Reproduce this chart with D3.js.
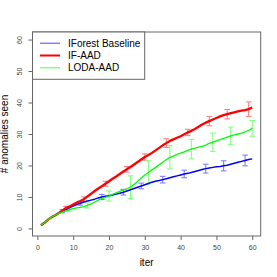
<!DOCTYPE html>
<html>
<head>
<meta charset="utf-8">
<script src="https://cdn.jsdelivr.net/npm/d3@7"></script>
<style>
  html, body { margin: 0; padding: 0; background: #fff; }
  text { font-family: "Liberation Sans", Arial, sans-serif; }
</style>
</head>
<body>
<svg id="chart" width="277" height="277"></svg>
<script>
// mean anomalies seen per iteration (iter 1..60)
const iters = d3.range(1, 61);
const baseline = [1, 1.8, 2.8, 3.6, 4.2, 4.9, 5.5, 6.0, 6.6, 7.1, 7.6, 8.0, 8.4, 8.7, 9.0, 9.3, 9.7, 10.0, 10.2, 10.4,
  10.6, 10.9, 11.2, 11.5, 11.9, 12.3, 12.7, 13.1, 13.5, 13.9, 14.3, 14.7, 15.0, 15.2, 15.5, 15.8, 16.1, 16.4, 16.7, 17.0,
  17.3, 17.5, 17.8, 18.1, 18.4, 18.7, 19.0, 19.2, 19.4, 19.6, 19.7, 19.9, 20.1, 20.4, 20.7, 21.0, 21.3, 21.6, 21.9, 22.1];
const ifaad = [1, 1.8, 2.8, 3.6, 4.2, 4.9, 5.7, 6.5, 7.0, 7.6, 8.2, 8.7, 9.3, 10.2, 11.0, 11.9, 12.7, 13.4, 14.2, 15.0,
  15.8, 16.5, 17.3, 18.1, 18.8, 19.5, 20.3, 21.1, 21.9, 22.7, 23.3, 24.0, 24.8, 25.6, 26.4, 27.1, 27.8, 28.3, 28.8, 29.3,
  29.9, 30.5, 31.0, 31.6, 32.3, 33.0, 33.6, 34.1, 34.6, 35.1, 35.6, 36.0, 36.3, 36.6, 36.9, 37.2, 37.4, 37.6, 37.9, 38.4];
const lodaad = [1, 1.8, 2.8, 3.6, 4.2, 4.8, 5.2, 5.6, 6.0, 6.3, 6.5, 6.7, 6.9, 7.3, 7.8, 8.4, 9.0, 9.5, 9.9, 10.3,
  10.8, 11.3, 11.8, 12.2, 12.6, 13.1, 14.0, 15.0, 16.0, 17.0, 17.8, 18.6, 19.4, 20.2, 21.0, 21.8, 22.6, 23.0, 23.5, 23.9,
  24.3, 24.8, 25.2, 25.5, 25.8, 26.1, 26.5, 27.0, 27.4, 27.8, 28.2, 28.6, 29.0, 29.4, 29.7, 30.0, 30.3, 30.7, 31.2, 31.8];

// error bars: iteration and half-width
const baselineErrIter = [7, 12, 18, 24, 29, 35, 41, 47, 52, 58];
const baselineErr = [0.5, 0.6, 0.8, 0.9, 0.9, 1.05, 1.2, 1.4, 1.6, 1.7];
const ifaadErrIter = [8, 13, 19, 25, 30, 36, 42, 48, 53, 59];
const ifaadErr = [0.5, 0.7, 0.8, 0.9, 1.0, 1.4, 1.0, 1.5, 1.5, 2.3];
const lodaadErrIter = [9, 14, 20, 26, 31, 37, 43, 49, 54, 60];
const lodaadErr = [0.5, 0.8, 1.6, 3.6, 3.7, 3.7, 3.1, 2.9, 2.8, 2.5];

const seriesNames = ["IForest Baseline", "IF-AAD", "LODA-AAD"];
const xTicks = [0, 10, 20, 30, 40, 50, 60];
const yTicks = [0, 10, 20, 30, 40, 50, 60];

const series = [
  { name: seriesNames[0], vals: baseline, errIter: baselineErrIter, err: baselineErr, color: "#0000ff", bar: "#8080ff", leg: "#8080ff", w: 1.5 },
  { name: seriesNames[1], vals: ifaad, errIter: ifaadErrIter, err: ifaadErr, color: "#ff0000", bar: "#ff8080", leg: "#ff0000", w: 2.3 },
  { name: seriesNames[2], vals: lodaad, errIter: lodaadErrIter, err: lodaadErr, color: "#00ff00", bar: "#80ff80", leg: "#80ff80", w: 1.3 }
];

const svg = d3.select("#chart");
const pl = 32.5, pr = 260.7, pt = 32, pb = 236;

const x = d3.scaleLinear().domain([-1.36, 62.36]).range([pl, pr]);
const y = d3.scaleLinear().domain([-2.4, 62.4]).range([pb, pt]);

const g = svg.append("g");

// error bars
series.forEach(s => {
  const eb = g.append("g");
  s.errIter.forEach((it, i) => {
    const m = s.vals[it - 1], e = s.err[i];
    const cx = x(it), y1 = y(m - e), y2 = y(m + e);
    eb.append("line").attr("x1", cx).attr("x2", cx).attr("y1", y1).attr("y2", y2)
      .attr("stroke", s.bar).attr("stroke-width", 1.1);
    [y1, y2].forEach(yy => eb.append("line").attr("x1", cx - 2.8).attr("x2", cx + 2.8)
      .attr("y1", yy).attr("y2", yy).attr("stroke", s.bar).attr("stroke-width", 1.1));
  });
});

// lines
const line = d3.line().x((d, i) => x(iters[i])).y(d => y(d));
series.forEach(s => {
  g.append("path").attr("d", line(s.vals)).attr("fill", "none")
    .attr("stroke", s.color).attr("stroke-width", s.w).attr("stroke-linejoin", "round");
});

// box
svg.append("rect").attr("x", pl).attr("y", pt).attr("width", pr - pl).attr("height", pb - pt)
  .attr("fill", "none").attr("stroke", "#666").attr("stroke-width", 1);

// x axis
const xa = svg.append("g").attr("transform", `translate(0,${pb})`)
  .call(d3.axisBottom(x).tickValues(xTicks).tickSize(4).tickPadding(5));
xa.select(".domain").remove();
xa.selectAll("line").attr("stroke", "#666");
xa.selectAll("text").attr("font-size", 7).attr("fill", "#444").attr("font-family", "Liberation Sans, Arial, sans-serif");

// y axis
const ya = svg.append("g").attr("transform", `translate(${pl},0)`)
  .call(d3.axisLeft(y).tickValues(yTicks).tickSize(4));
ya.select(".domain").remove();
ya.selectAll("line").attr("stroke", "#666");
ya.selectAll("text").attr("font-size", 7).attr("fill", "#444").attr("font-family", "Liberation Sans, Arial, sans-serif")
  .attr("x", null).attr("dy", null).attr("text-anchor", "middle")
  .attr("transform", "translate(-10.5,0) rotate(-90)");

// axis titles
svg.append("text").attr("x", (pl + pr) / 2).attr("y", 266).attr("text-anchor", "middle")
  .attr("font-size", 10).text("iter");
svg.append("text").attr("transform", `translate(8,${(pt + pb) / 2}) rotate(-90)`)
  .attr("text-anchor", "middle").attr("font-size", 10).text("# anomalies seen");

// legend
const lg = svg.append("g");
lg.append("rect").attr("x", pl).attr("y", pt).attr("width", 112.2).attr("height", 47.3)
  .attr("fill", "#fff").attr("stroke", "#666").attr("stroke-width", 1);
series.forEach((s, i) => {
  const ly = 43.3 + i * 12.2;
  lg.append("line").attr("x1", 40).attr("x2", 60).attr("y1", ly).attr("y2", ly)
    .attr("stroke", s.leg).attr("stroke-width", i === 1 ? 2 : 1.5);
  lg.append("text").attr("x", 68).attr("y", ly + 3.6).attr("font-size", 10).text(s.name);
});
</script>
</body>
</html>
